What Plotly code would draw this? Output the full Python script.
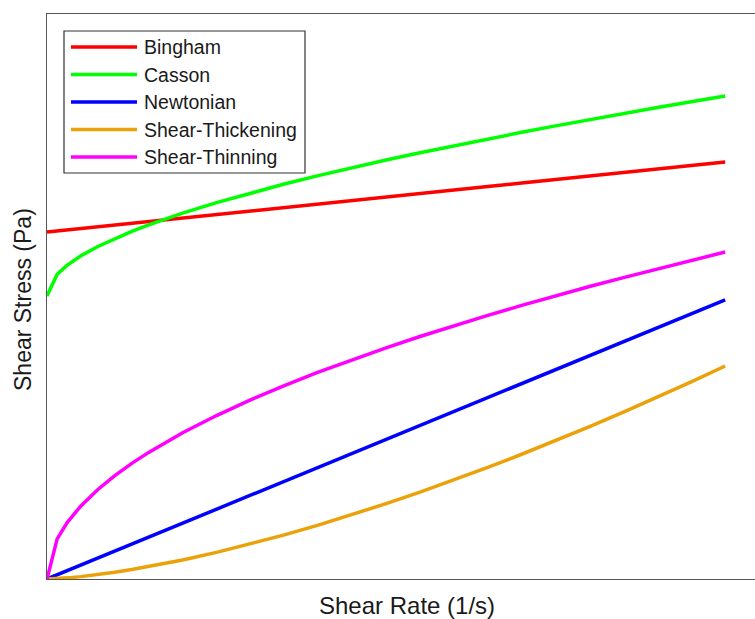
import plotly.graph_objects as go

# Shear rate samples (1/s) and the stress each model gives (Pa)
shear_rate = [0, 0.15, 0.3, 0.5, 0.75, 1, 1.25, 1.5, 2, 2.5, 3, 3.5, 4, 4.5, 5,
              5.5, 6, 6.5, 7, 7.5, 8, 8.5, 9, 9.5, 10]

bingham = [61.4, 61.59, 61.77, 62.02, 62.33, 62.64, 62.95, 63.26, 63.88, 64.5,
           65.12, 65.74, 66.36, 66.98, 67.6, 68.22, 68.84, 69.46, 70.08, 70.7,
           71.32, 71.94, 72.56, 73.18, 73.8]
casson = [50.1, 53.93, 55.55, 57.2, 58.85, 60.27, 61.54, 62.69, 64.76, 66.62,
          68.32, 69.9, 71.39, 72.8, 74.15, 75.44, 76.69, 77.9, 79.06, 80.2,
          81.31, 82.39, 83.44, 84.48, 85.49]
newtonian = [0, 0.74, 1.48, 2.47, 3.71, 4.94, 6.18, 7.41, 9.88, 12.35,
             14.82, 17.29, 19.76, 22.23, 24.7, 27.17, 29.64, 32.11, 34.58, 37.05,
             39.52, 41.99, 44.46, 46.93, 49.4]
shear_thickening = [0, 0.07, 0.2, 0.42, 0.77, 1.19, 1.67, 2.19, 3.37, 4.71,
                    6.19, 7.81, 9.54, 11.38, 13.33, 15.38, 17.52, 19.75, 22.08, 24.48,
                    26.97, 29.54, 32.18, 34.9, 37.7]
shear_thinning = [0, 7.09, 10.02, 12.94, 15.85, 18.3, 20.46, 22.41, 25.88, 28.93,
                  31.7, 34.24, 36.6, 38.82, 40.92, 42.92, 44.83, 46.66, 48.42, 50.12,
                  51.76, 53.35, 54.9, 56.4, 57.87]

series_names = ["Bingham", "Casson", "Newtonian", "Shear-Thickening", "Shear-Thinning"]
series_values = [bingham, casson, newtonian, shear_thickening, shear_thinning]
series_colors = ["#FF0000", "#00FF00", "#0000FF", "#EBA10A", "#FF00FF"]

W, H = 755, 619
LEFT, TOP, BOTTOM = 47, 14, 579
FONT = "Liberation Sans, Arial, sans-serif"


def px(x, y):
    """Pixel position -> paper coordinates of the plot area."""
    return (x - LEFT) / (W - LEFT), (BOTTOM - y) / (BOTTOM - TOP)


fig = go.Figure()
for name, vals, col in zip(series_names, series_values, series_colors):
    fig.add_trace(go.Scatter(x=shear_rate, y=vals, mode="lines", name=name,
                             line=dict(color=col, width=3.5), cliponaxis=False,
                             showlegend=False))

# Boxed legend with long line samples
shapes = []
annotations = []
x0, y0 = px(64, 31)
x1, y1 = px(305, 173)
shapes.append(dict(type="rect", xref="paper", yref="paper", x0=x0, y0=y1, x1=x1, y1=y0,
                   line=dict(color="#333333", width=1.2), fillcolor="white", layer="above"))
for i, (name, col) in enumerate(zip(series_names, series_colors)):
    yc = 47 + i * 27.5
    lx0, ly = px(71, yc)
    lx1, _ = px(137, yc)
    shapes.append(dict(type="line", xref="paper", yref="paper", x0=lx0, x1=lx1, y0=ly, y1=ly,
                       line=dict(color=col, width=3.5), layer="above"))
    tx, _ = px(142, yc)
    annotations.append(dict(text=name, xref="paper", yref="paper", x=tx, y=ly,
                            xanchor="left", yanchor="middle", showarrow=False,
                            font=dict(family=FONT, size=19.5, color="#1a1a1a")))

ax, ay = px(407, 605)
annotations.append(dict(text="Shear Rate (1/s)", xref="paper", yref="paper", x=ax, y=ay,
                        xanchor="center", yanchor="middle", showarrow=False,
                        font=dict(family=FONT, size=24, color="#1a1a1a")))
bx, by = px(23, 300)
annotations.append(dict(text="Shear Stress (Pa)", xref="paper", yref="paper", x=bx, y=by,
                        xanchor="center", yanchor="middle", showarrow=False, textangle=-90,
                        font=dict(family=FONT, size=23, color="#1a1a1a")))

fig.update_layout(
    width=W, height=H,
    margin=dict(l=LEFT, r=0, t=TOP, b=H - BOTTOM),
    plot_bgcolor="white", paper_bgcolor="white",
    shapes=shapes, annotations=annotations,
    xaxis=dict(range=[0, 10.44], showline=True, mirror=True, linecolor="#555555", linewidth=1.3,
               showgrid=False, zeroline=False, showticklabels=False, ticks=""),
    yaxis=dict(range=[0, 100], showline=True, mirror=False, linecolor="#555555", linewidth=1.3,
               showgrid=False, zeroline=False, showticklabels=False, ticks=""),
)

fig.write_html("out.html")
